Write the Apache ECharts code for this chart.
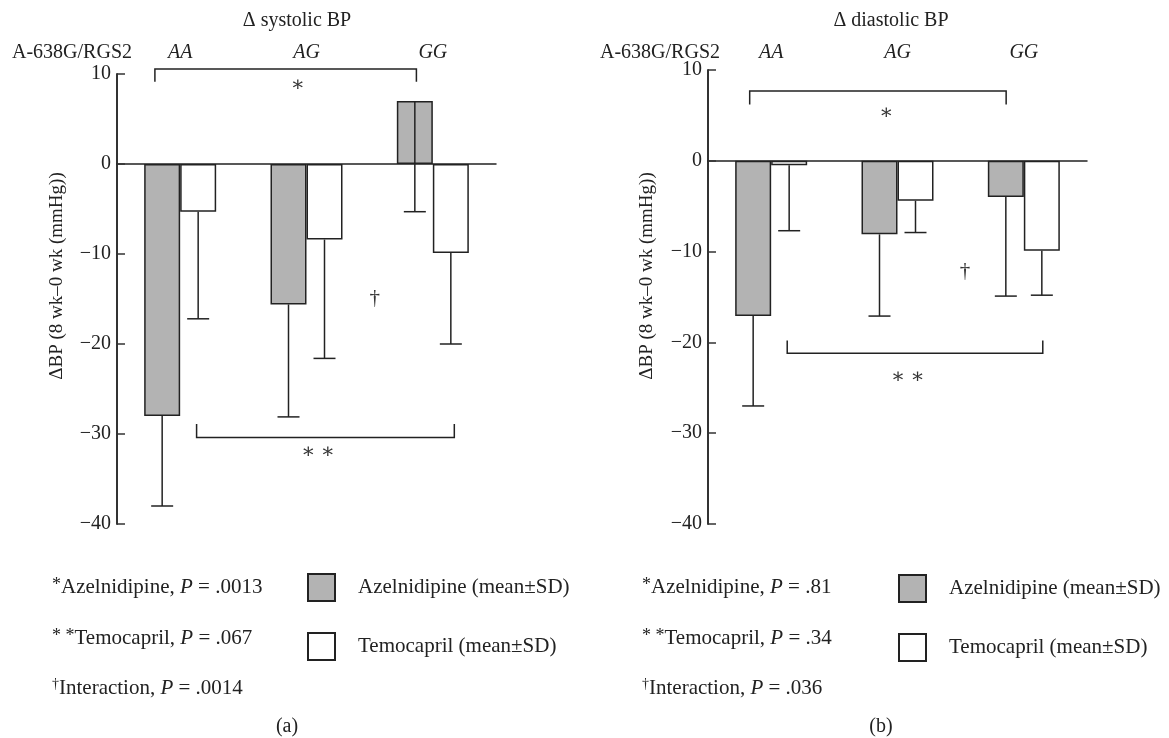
<!DOCTYPE html>
<html>
<head>
	<meta charset="utf-8">
	<title>RGS2 BP</title>
	<script src="https://cdn.jsdelivr.net/npm/echarts@6/dist/echarts.min.js"></script>
	<style>
		html,body{margin:0;padding:0;background:#fff;}
		#main{width:1169px;height:738px;}
	</style>
</head>
<body>
	<div id="main"></div>
<script type="text/javascript">
// genotypes
var genotypes = ['AA', 'AG', 'GG'];
var yTicks = [-40, -30, -20, -10, 0, 10];

// (a) systolic: mean and SD per genotype
var sysAzelMean = [-28, -15.6, 7];
var sysAzelSD = [10, 12.5, 12.3];
var sysTemoMean = [-5.3, -8.4, -9.9];
var sysTemoSD = [11.9, 13.2, 10.1];

// (b) diastolic
var diaAzelMean = [-17.1, -8.1, -4.0];
var diaAzelSD = [9.9, 9.0, 10.9];
var diaTemoMean = [-0.5, -4.4, -9.9];
var diaTemoSD = [7.2, 3.5, 4.9];

// brackets: [x0, x1, yLine, yTip]  (x in category units, 0 = AA centre)
var sysBrackets = [[-0.2, 1.87, 10.56, 9.15], [0.13, 2.17, -30.4, -28.9]];
var diaBrackets = [[-0.17, 1.86, 7.7, 6.2], [0.127, 2.15, -21.2, -19.8]];
// significance marks: [x, y, text]
var sysMarks = [[0.93, 8.7, '∗'], [1.09, -32.1, '∗ ∗'], [1.54, -14.9, '†']];
var diaMarks = [[0.91, 5.2, '∗'], [1.08, -23.9, '∗ ∗'], [1.535, -12.2, '†']];

var FONT = '"Liberation Serif", "DejaVu Serif", serif';
var INK = '#222';
var GRAY = '#b3b3b3';
var AZEL = 'Azelnidipine (mean±SD)';
var TEMO = 'Temocapril (mean±SD)';

function minusFmt(v){ return v < 0 ? '−' + Math.abs(v) : '' + v; }

function errData(means, sds){
    return means.map(function(m, i){ return [i, m, sds[i]]; });
}

// fractional category position -> pixel (ordinal coord rounds, so go via band width)
function at(api, xv, yv){
    var base = api.coord([0, yv]);
    var band = api.size([1, 0])[0];
    return [base[0] + xv * band, base[1]];
}

// error bar drawn from the bar end downward by one SD
function errSeries(grid, means, sds, side){
    return {
        type: 'custom', xAxisIndex: grid * 2, yAxisIndex: grid, z: 5,
        data: errData(means, sds),
        renderItem: function(params, api){
            var top = api.coord([api.value(0), api.value(1)]);
            var bot = api.coord([api.value(0), api.value(1) - api.value(2)]);
            var x = top[0] + side * 18;
            var st = {stroke: INK, lineWidth: 1.5};
            return {type: 'group', children: [
                {type: 'line', shape: {x1: x, y1: top[1], x2: x, y2: bot[1]}, style: st},
                {type: 'line', shape: {x1: x - 11, y1: bot[1], x2: x + 11, y2: bot[1]}, style: st}
            ]};
        }
    };
}

function annoSeries(grid, brackets, marks){
    return {
        type: 'custom', xAxisIndex: grid * 2, yAxisIndex: grid, clip: false, z: 6,
        data: [[1, 0]],
        renderItem: function(params, api){
            var kids = [];
            var st = {stroke: INK, lineWidth: 1.5, fill: null};
            brackets.forEach(function(b){
                var a = at(api, b[0], b[2]), c = at(api, b[1], b[2]);
                var ta = at(api, b[0], b[3]), tc = at(api, b[1], b[3]);
                kids.push({type: 'polyline', shape: {points: [ta, a, c, tc]}, style: st});
            });
            marks.forEach(function(m){
                var p = at(api, m[0], m[1]);
                kids.push({type: 'text', x: p[0], y: p[1], style: {text: m[2], align: 'center', verticalAlign: 'middle', font: '21px ' + FONT, fill: '#333'}});
            });
            return {type: 'group', children: kids};
        }
    };
}

function barSeries(grid, name, data, color){
    return {
        name: name, type: 'bar', xAxisIndex: grid * 2, yAxisIndex: grid,
        data: data, barWidth: 36, barGap: '0%',
        itemStyle: {color: color, borderColor: INK, borderWidth: 1.5},
        emphasis: {disabled: true}
    };
}

function xAxes(grid, margin){
    return [
        {gridIndex: grid, type: 'category', data: genotypes, position: 'bottom',
         axisLine: {onZero: true, lineStyle: {color: INK, width: 1.5}},
         axisTick: {show: false}, axisLabel: {show: false}},
        {gridIndex: grid, type: 'category', data: genotypes, position: 'top',
         axisLine: {show: false, onZero: false}, axisTick: {show: false},
         axisLabel: {fontStyle: 'italic', fontFamily: FONT, fontSize: 20, color: INK, margin: margin}}
    ];
}

function yAxis(grid){
    return {
        gridIndex: grid, type: 'value', min: yTicks[0], max: yTicks[yTicks.length - 1], interval: 10,
        axisLine: {show: true, lineStyle: {color: '#333', width: 2}},
        axisTick: {show: true, inside: true, length: 8, lineStyle: {color: '#333', width: 1.5}},
        splitLine: {show: false},
        axisLabel: {formatter: minusFmt, fontFamily: FONT, fontSize: 20, color: INK, margin: 6}
    };
}

function txt(x, y, text, opt){
    var s = {text: text, x: x, y: y, font: '20px ' + FONT, fill: INK, align: 'left', verticalAlign: 'middle'};
    for (var k in opt) s[k] = opt[k];
    return {type: 'text', style: s};
}

var rich = {
    n: {fontFamily: FONT, fontSize: 21, fill: INK},
    i: {fontStyle: 'italic', fontFamily: FONT, fontSize: 21, fill: INK},
    s: {fontFamily: FONT, fontSize: 18, fill: INK, verticalAlign: 'top'},
    sup: {fontFamily: FONT, fontSize: 14, fill: INK, verticalAlign: 'top'}
};

function statBlock(x, pA, pT, pI){
    return [
        txt(x, 587, '{s|*}{n|Azelnidipine, }{i|P}{n| = ' + pA + '}', {rich: rich}),
        txt(x, 638, '{s|* *}{n|Temocapril, }{i|P}{n| = ' + pT + '}', {rich: rich}),
        txt(x, 688, '{sup|†}{n|Interaction, }{i|P}{n| = ' + pI + '}', {rich: rich})
    ];
}

function yName(x){
    return {type: 'text', x: x, y: 276, rotation: Math.PI / 2,
        style: {text: 'ΔBP (8 wk–0 wk (mmHg))', x: 0, y: 0, align: 'center', verticalAlign: 'middle', font: '19px ' + FONT, fill: INK}};
}

var graphics = [
    txt(297, 21, 'Δ systolic BP', {align: 'center'}),
    txt(891, 21, 'Δ diastolic BP', {align: 'center'}),
    txt(132, 53, 'A-638G/RGS2', {align: 'right'}),
    txt(720, 53, 'A-638G/RGS2', {align: 'right'}),
    yName(57), yName(647),
    txt(287, 727, '(a)', {align: 'center'}),
    txt(881, 727, '(b)', {align: 'center'})
].concat(statBlock(52, '.0013', '.067', '.0014'), statBlock(642, '.81', '.34', '.036'));

function legend(left, top){
    return {
        left: left, top: top, orient: 'vertical', padding: 0,
        itemWidth: 27, itemHeight: 27, itemGap: 30, icon: 'rect',
        data: [AZEL, TEMO], selectedMode: false,
        textStyle: {fontFamily: FONT, fontSize: 21, color: INK, padding: [0, 0, 0, 18]}
    };
}

var option = {
    animation: false,
    backgroundColor: '#fff',
    grid: [
        {left: 117, top: 74, width: 379, height: 450},
        {left: 708, top: 70, width: 379, height: 454}
    ],
    xAxis: xAxes(0, 11).concat(xAxes(1, 7)),
    yAxis: [yAxis(0), yAxis(1)],
    legend: [legend(307, 573), legend(898, 574)],
    graphic: graphics,
    series: [
        barSeries(0, AZEL, sysAzelMean, GRAY),
        barSeries(0, TEMO, sysTemoMean, '#fff'),
        barSeries(1, AZEL, diaAzelMean, GRAY),
        barSeries(1, TEMO, diaTemoMean, '#fff'),
        errSeries(0, sysAzelMean, sysAzelSD, -1),
        errSeries(0, sysTemoMean, sysTemoSD, 1),
        errSeries(1, diaAzelMean, diaAzelSD, -1),
        errSeries(1, diaTemoMean, diaTemoSD, 1),
        annoSeries(0, sysBrackets, sysMarks),
        annoSeries(1, diaBrackets, diaMarks)
    ]
};

var myChart = echarts.init(document.getElementById('main'));
myChart.setOption(option);
</script>
</body>
</html>
